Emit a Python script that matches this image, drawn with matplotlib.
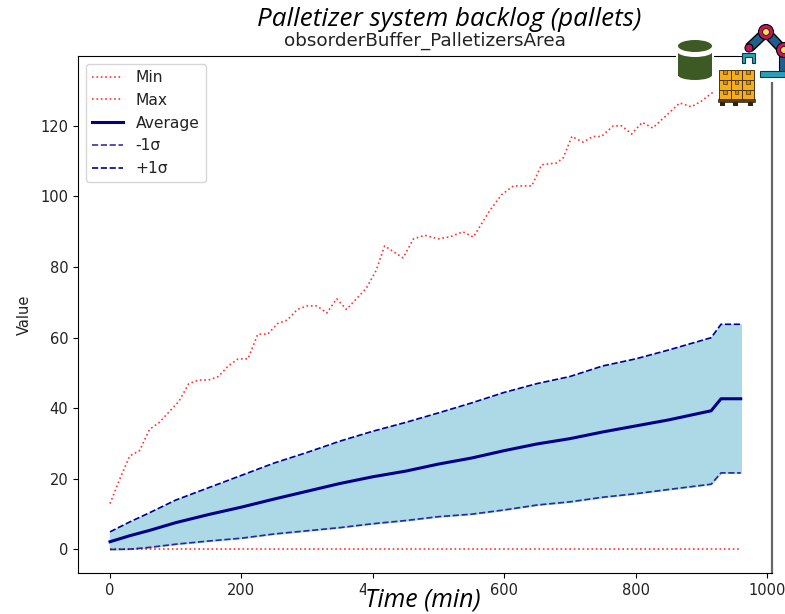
import matplotlib
matplotlib.use('Agg')
import matplotlib.pyplot as plt
from matplotlib.patches import Rectangle, Ellipse, Circle, Polygon

# values
time_max = [0, 15, 30, 45, 60, 75, 90, 105, 120, 135, 150, 165, 180, 195, 210, 225, 240, 255, 270, 285,
            300, 315, 330, 345, 360, 375, 390, 405, 418, 432, 446, 462, 479, 500, 518, 537, 553, 578, 596, 614,
            642, 657, 680, 690, 703, 720, 735, 748, 766, 779, 794, 810, 826, 850, 867, 885, 900, 916, 935, 960]
val_max = [13, 20, 26.5, 28, 34, 36, 39, 42, 47, 48, 48, 49, 52, 54, 54, 61, 61, 64, 65, 68,
           69, 69, 67, 71, 68, 71, 74, 79, 86, 84.3, 82.6, 88, 89, 88, 88.6, 90, 88.5, 96, 100.5, 103,
           103, 109, 109.5, 111, 117, 115.4, 117, 117, 120, 120, 117.7, 121, 119.4, 123.5, 126.5, 125.4, 127, 129.3, 131, 133]

time_band = [0, 30, 60, 100, 150, 200, 250, 300, 350, 400, 450, 500, 550, 600, 650, 700, 750, 800, 850, 915, 930, 960]
val_avg = [2.2, 3.9, 5.4, 7.6, 9.9, 12, 14.3, 16.5, 18.7, 20.6, 22.2, 24.2, 25.9, 28, 29.9, 31.4, 33.3, 35, 36.7, 39.3, 42.7, 42.7]
val_upper = [5, 7.8, 10.4, 14, 17.5, 21, 24.5, 27.5, 30.7, 33.5, 36, 38.7, 41.5, 44.5, 47, 49, 52, 54, 56.5, 60, 63.8, 63.8]
val_lower = [0, 0.1, 0.6, 1.5, 2.4, 3.2, 4.4, 5.3, 6.2, 7.3, 8.2, 9.3, 10, 11.2, 12.6, 13.5, 14.8, 15.8, 17, 18.5, 21.7, 21.7]
time_min = [0, 960]
val_min = [0, 0]

W, H = 785, 614
fig = plt.figure(figsize=(W/100, H/100), dpi=100)
ax = fig.add_axes([78/W, 1-573/H, (772-78)/W, (573-56)/H])

ax.fill_between(time_band, val_lower, val_upper, color='lightblue')
ax.plot(time_min, val_min, color='red', linestyle=':', linewidth=1.2, alpha=0.8, label='Min')
ax.plot(time_max, val_max, color='red', linestyle=':', linewidth=1.2, alpha=0.8, label='Max')
ax.plot(time_band, val_avg, color='darkblue', linewidth=2.2, label='Average')
ax.plot(time_band, val_lower, color='darkblue', linestyle='--', linewidth=1.2, alpha=0.8, label='-1σ')
ax.plot(time_band, val_upper, color='darkblue', linestyle='--', linewidth=1.2, label='+1σ')

ax.set_xlim(-48.7, 1007.6)
ax.set_ylim(-6.66, 139.8)
ax.set_xticks([0, 200, 400, 600, 800, 1000])
ax.set_yticks([0, 20, 40, 60, 80, 100, 120])
ax.tick_params(labelsize=10.5, labelcolor='#222222')
ax.set_ylabel('Value', size=10.5, labelpad=6, color='#222222')
ax.set_title('obsorderBuffer_PalletizersArea', size=13.2, pad=7.5, color='#222222')
ax.legend(loc='upper left', fontsize=11.2, labelcolor='#222222')
ax.spines['right'].set_color('#666666')
ax.spines['right'].set_linewidth(1.6)

# pasted-on slide layer, in pixel coordinates of the picture
top = fig.add_axes([0, 0, 1, 1], zorder=10)
top.set_xlim(0, W)
top.set_ylim(H, 0)
top.axis('off')

top.text(449, 20, 'Palletizer system backlog (pallets)', family='Open Sans', style='italic',
         size=18.7, ha='center', va='center', color='black')
top.add_patch(Rectangle((366, 582), 118, 32, fc='white', ec='none'))
top.text(423, 600, 'Time (min)', family='Open Sans', style='italic', size=17.9, ha='center', va='center',
         color='black')

# white behind the icons
top.add_patch(Rectangle((676, 36), 38, 46, fc='white', ec='none'))
top.add_patch(Rectangle((714, 60), 45, 48, fc='white', ec='none'))
top.add_patch(Rectangle((738, 20), 47, 36, fc='white', ec='none'))
top.add_patch(Rectangle((755, 56), 30, 26, fc='white', ec='none'))

# barrel
green = '#3d5a24'
top.add_patch(Rectangle((678, 50), 34, 26, fc=green, ec='none'))
top.add_patch(Ellipse((695, 75), 34, 10, fc=green, ec='none'))
top.add_patch(Ellipse((695, 51), 36, 12, fc='white', ec='none'))
top.add_patch(Ellipse((695, 46), 34, 12, fc=green, ec='none'))

# pallet of boxes
for col in range(3):
    for row in range(3):
        x0 = 719 + col*11.7
        y0 = 70 + row*10
        top.add_patch(Rectangle((x0, y0), 11.7, 10, fc='#f5ae1a', ec='#4a3410', lw=0.7))
        top.add_patch(Rectangle((x0+4, y0), 3.5, 3.5, fc='#c98a10', ec='#4a3410', lw=0.5))
top.add_patch(Rectangle((718, 99), 37, 3, fc='#5a3d15', ec='#33230c', lw=0.5))
for x0 in [720, 733, 748]:
    top.add_patch(Rectangle((x0, 102), 5, 3.5, fc='#33230c', ec='none'))

# robot arm
blue = '#1f5f8b'
top.plot([749, 766, 783], [48, 32, 50], color='black', lw=7.5, solid_capstyle='butt', zorder=1.1)
top.plot([749, 766, 783], [48, 32, 50], color=blue, lw=5.5, solid_capstyle='butt', zorder=1.2)
top.add_patch(Rectangle((779, 52), 6, 20, fc=blue, ec='black', lw=0.8, zorder=1.3))
top.add_patch(Rectangle((760, 71), 25, 6, fc='#2aa0b8', ec='#12343f', lw=0.8, zorder=1.3))
for xc, yc, r in [(766, 32, 7.5), (784, 50, 7.5)]:
    top.add_patch(Circle((xc, yc), r, fc='#c2185b', ec='black', lw=0.8, zorder=1.4))
    top.add_patch(Circle((xc, yc), r*0.45, fc='#f7e04b', ec='black', lw=0.5, zorder=1.5))
top.add_patch(Circle((749, 48), 4, fc='#c2185b', ec='black', lw=0.8, zorder=1.4))
top.add_patch(Polygon([(742, 63), (742, 53), (755, 53), (755, 63), (752, 63), (752, 57), (745, 57), (745, 63)],
                      closed=True, fc='#2aa0b8', ec='#12343f', lw=0.8, zorder=1.3))

fig.savefig('out.png', dpi=100)
